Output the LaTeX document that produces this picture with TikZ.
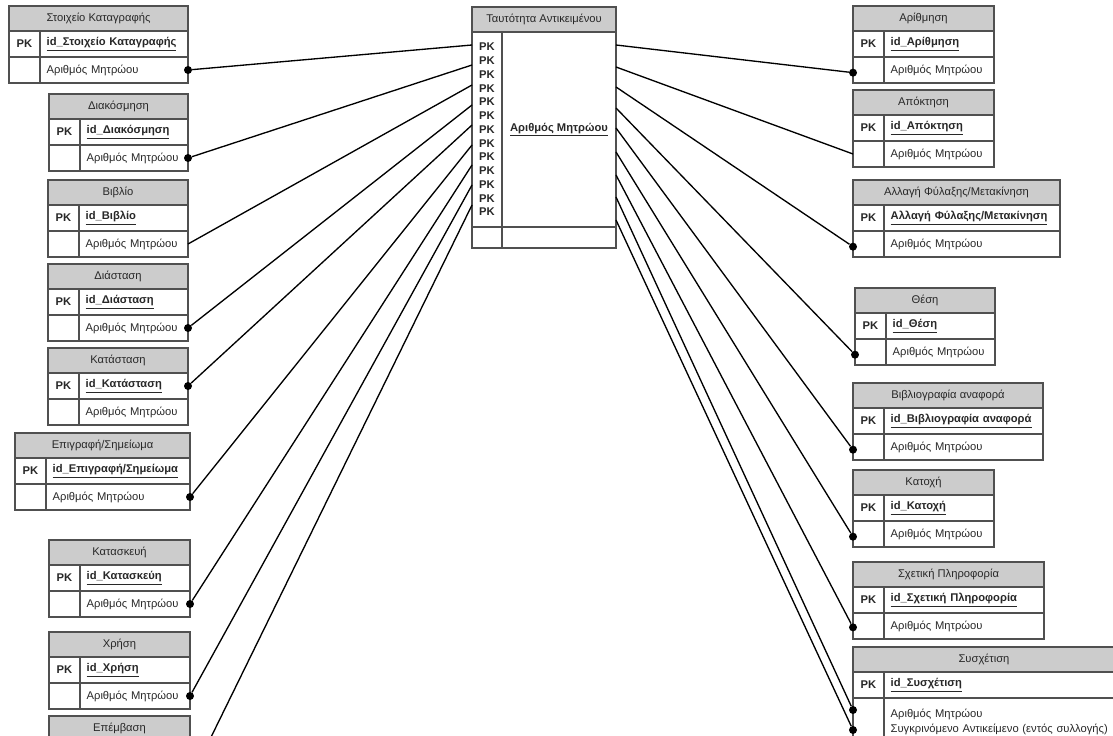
\documentclass[tikz,border=0pt]{standalone}
\usepackage{fontspec}
\setmainfont{Liberation Sans}
\usetikzlibrary{calc}
\definecolor{hdrgray}{RGB}{204,204,204}
\definecolor{framegray}{RGB}{80,80,80}
\definecolor{txtgray}{RGB}{40,40,40}
\tikzset{
  tblcell/.style = {draw=framegray, line width=0.85pt, inner sep=0pt, outer sep=0pt, text=txtgray, font=\fontsize{8.4}{11}\selectfont},
  tblhead/.style = {tblcell, fill=hdrgray, minimum height=18.75pt, align=center},
  pkcell/.style = {tblcell, fill=white, minimum width=23.25pt, minimum height=19.5pt, font=\fontsize{8.4}{11}\selectfont\bfseries},
  keycell/.style = {tblcell, fill=white, inner xsep=5pt, minimum height=19.5pt, align=left},
  fkdot/.style = {circle, fill=black, inner sep=0pt, minimum size=6pt},
  rel/.style = {draw=black, line width=1pt}
}
% [height of last row]{name}{x}{y}{width}{title}{key}{attribute}, in pixels
\newcommand{\enttbl}[8][26]{%
  \pgfmathsetmacro{\tblw}{#5*0.75}%
  \pgfmathsetmacro{\keyw}{(#5-31)*0.75-10}%
  \pgfmathsetmacro{\atth}{#1*0.75}%
  \node [tblhead, minimum width=\tblw pt, anchor=north west] (#2) at (#3,#4) {#6};
  \node [pkcell, anchor=north west] (#2-pk) at (#2.south west) {PK};
  \node [keycell, text width=\keyw pt, anchor=north west] (#2-key) at (#2-pk.north east) {\underline{\textbf{#7}}};
  \node [pkcell, minimum height=\atth pt, anchor=north west] (#2-no) at (#2-pk.south west) {};
  \node [keycell, text width=\keyw pt, minimum height=\atth pt, anchor=north west] (#2-att) at (#2-no.north east) {#8};
}

\begin{document}
\begin{tikzpicture}[x=0.75pt, y=-0.75pt]
	\useasboundingbox (0,0) rectangle (1113,735);
	\fill[white] (0,0) rectangle (1113,735);
	\clip (0,0) rectangle (1113,735);

	\node [tblhead, minimum width=108pt, anchor=north west] (ctr) at (472,7) {Ταυτότητα Αντικειμένου};
	\node [pkcell, minimum width=22.5pt, minimum height=146.25pt, align=center, font=\fontsize{8.4}{10.3}\selectfont\bfseries, anchor=north west] (ctr-pk) at (ctr.south west)
		{PK\\PK\\PK\\PK\\PK\\PK\\PK\\PK\\PK\\PK\\PK\\PK\\PK};
	\node [keycell, minimum width=85.5pt, minimum height=146.25pt, align=center, anchor=north west] (ctr-key) at (ctr-pk.north east) {\underline{\textbf{Αριθμός Μητρώου}}};
	\node [pkcell, minimum width=22.5pt, minimum height=15.75pt, anchor=north west] (ctr-no) at (ctr-pk.south west) {};
	\node [keycell, minimum width=85.5pt, minimum height=15.75pt, anchor=north west] (ctr-end) at (ctr-no.north east) {};

	\enttbl{stoix}{9}{6}{179}{Στοιχείο Καταγραφής}{id\_Στοιχείο Καταγραφής}{Αριθμός Μητρώου}
	\enttbl{diakos}{49}{94}{139}{Διακόσμηση}{id\_Διακόσμηση}{Αριθμός Μητρώου}
	\enttbl{vivlio}{48}{180}{140}{Βιβλίο}{id\_Βιβλίο}{Αριθμός Μητρώου}
	\enttbl{diast}{48}{264}{140}{Διάσταση}{id\_Διάσταση}{Αριθμός Μητρώου}
	\enttbl{katast}{48}{348}{140}{Κατάσταση}{id\_Κατάσταση}{Αριθμός Μητρώου}
	\enttbl{epigr}{15}{433}{175}{Επιγραφή/Σημείωμα}{id\_Επιγραφή/Σημείωμα}{Αριθμός Μητρώου}
	\enttbl{kataskeui}{49}{540}{141}{Κατασκευή}{id\_Κατασκεύη}{Αριθμός Μητρώου}
	\enttbl{xrisi}{49}{632}{141}{Χρήση}{id\_Χρήση}{Αριθμός Μητρώου}
	% only its title row is inside the page
	\node [tblhead, minimum width=105.75pt, anchor=north west] (epemv) at (49,716) {Επέμβαση};

	\enttbl{arithm}{853}{6}{141}{Αρίθμηση}{id\_Αρίθμηση}{Αριθμός Μητρώου}
	\enttbl{apokt}{853}{90}{141}{Απόκτηση}{id\_Απόκτηση}{Αριθμός Μητρώου}
	\enttbl{allagi}{853}{180}{207}{Αλλαγή Φύλαξης/Μετακίνηση}{Αλλαγή Φύλαξης/Μετακίνηση}{Αριθμός Μητρώου}
	\enttbl{thesi}{855}{288}{140}{Θέση}{id\_Θέση}{Αριθμός Μητρώου}
	\enttbl{vivlior}{853}{383}{190}{Βιβλιογραφία αναφορά}{id\_Βιβλιογραφία αναφορά}{Αριθμός Μητρώου}
	\enttbl{katoxi}{853}{470}{141}{Κατοχή}{id\_Κατοχή}{Αριθμός Μητρώου}
	\enttbl{sxetiki}{853}{562}{191}{Σχετική Πληροφορία}{id\_Σχετική Πληροφορία}{Αριθμός Μητρώου}
	\enttbl[48]{sysx}{853}{647}{262}{Συσχέτιση}{id\_Συσχέτιση}{Αριθμός Μητρώου\\[0.5pt]\mbox{Συγκρινόμενο Αντικείμενο (εντός συλλογής)}}

	\foreach \i/\y in {1/45,2/65,3/85,4/105,5/125,6/145,7/165,8/185,9/205}
		\coordinate (cl\i) at (ctr-pk.west |- 0,\y);
	\foreach \i/\y in {1/45,2/67,3/87,4/108,5/128,6/152,7/175,8/197,9/220}
		\coordinate (cr\i) at (ctr-key.east |- 0,\y);

	\node [fkdot] (stoix-fk) at (stoix-att.east) {};
	\node [fkdot] (diakos-fk) at (diakos-att.east) {};
	\coordinate (vivlio-fk) at (vivlio-att.east);
	\node [fkdot] (diast-fk) at (diast-att.east) {};
	\node [fkdot] (katast-fk) at (katast-key.east) {};
	\node [fkdot] (epigr-fk) at (epigr-att.east) {};
	\node [fkdot] (kataskeui-fk) at (kataskeui-att.east) {};
	\node [fkdot] (xrisi-fk) at (xrisi-att.east) {};
	\coordinate (epemv-fk) at ($(epemv.south east)+(0,39)$);

	\node [fkdot] (arithm-fk) at ([yshift=-2pt]arithm-no.west) {};
	\coordinate (apokt-fk) at (apokt-no.west);
	\node [fkdot] (allagi-fk) at ([yshift=-2pt]allagi-no.west) {};
	\node [fkdot] (thesi-fk) at ([yshift=-2pt]thesi-no.west) {};
	\node [fkdot] (vivlior-fk) at ([yshift=-2pt]vivlior-no.west) {};
	\node [fkdot] (katoxi-fk) at ([yshift=-2pt]katoxi-no.west) {};
	\node [fkdot] (sxetiki-fk) at ([yshift=-1pt]sxetiki-no.west) {};
	\node [fkdot] (sysx-fk1) at ([yshift=9pt]sysx-no.west) {};
	\node [fkdot] (sysx-fk2) at ([yshift=-6pt]sysx-no.west) {};

	\draw[rel] (cl1) -- (stoix-fk);
	\draw[rel] (cl2) -- (diakos-fk);
	\draw[rel] (cl3) -- (vivlio-fk);
	\draw[rel] (cl4) -- (diast-fk);
	\draw[rel] (cl5) -- (katast-fk);
	\draw[rel] (cl6) -- (epigr-fk);
	\draw[rel] (cl7) -- (kataskeui-fk);
	\draw[rel] (cl8) -- (xrisi-fk);
	\draw[rel] (cl9) -- (epemv-fk);

	\draw[rel] (cr1) -- (arithm-fk);
	\draw[rel] (cr2) -- (apokt-fk);
	\draw[rel] (cr3) -- (allagi-fk);
	\draw[rel] (cr4) -- (thesi-fk);
	\draw[rel] (cr5) -- (vivlior-fk);
	\draw[rel] (cr6) -- (katoxi-fk);
	\draw[rel] (cr7) -- (sxetiki-fk);
	\draw[rel] (cr8) -- (sysx-fk1);
	\draw[rel] (cr9) -- (sysx-fk2);
\end{tikzpicture}
\end{document}
